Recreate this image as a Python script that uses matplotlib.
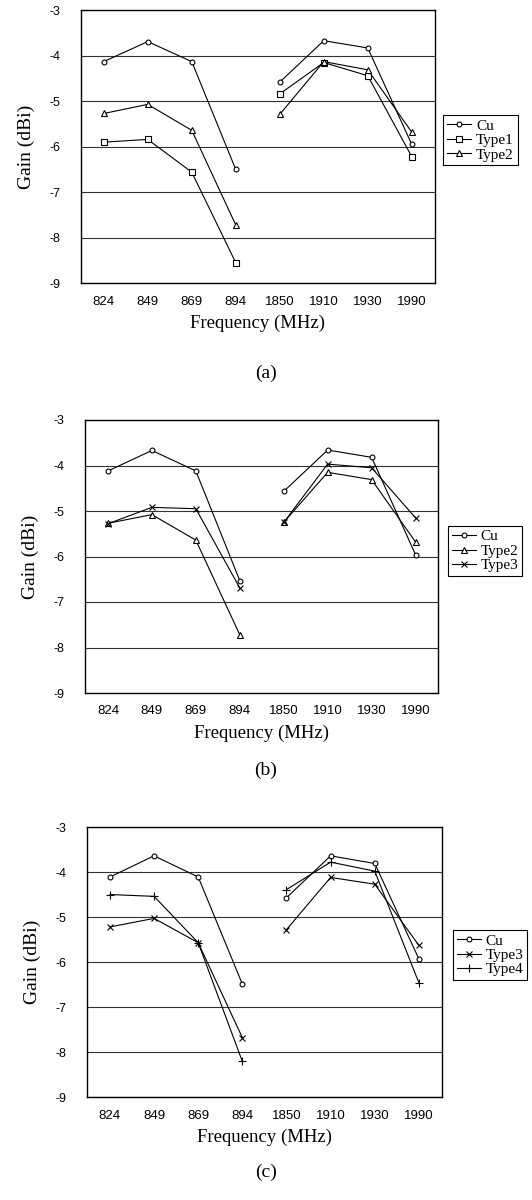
import numpy as np
import matplotlib
matplotlib.use('Agg')
import matplotlib.pyplot as plt

freq_labels = ['824', '849', '869', '894', '1850', '1910', '1930', '1990']
ytick_vals = [-3, -4, -5, -6, -7, -8, -9]

# panel (a)
cu_a = [-4.13, -3.69, -4.13, -6.50, -4.58, -3.67, -3.83, -5.95]
type1_a = [-5.90, -5.84, -6.56, -8.55, -4.84, -4.15, -4.44, -6.22]
type2_a = [-5.27, -5.07, -5.64, -7.72, -5.29, -4.13, -4.31, -5.68]

# panel (b)
cu_b = [-4.12, -3.67, -4.12, -6.53, -4.57, -3.66, -3.82, -5.96]
type2_b = [-5.27, -5.08, -5.64, -7.72, -5.25, -4.15, -4.31, -5.68]
type3_b = [-5.28, -4.92, -4.95, -6.69, -5.25, -3.97, -4.05, -5.15]

# panel (c)
cu_c = [-4.11, -3.64, -4.11, -6.49, -4.57, -3.64, -3.81, -5.93]
type3_c = [-5.22, -5.03, -5.57, -7.68, -5.28, -4.12, -4.27, -5.63]
type4_c = [-4.50, -4.54, -5.57, -8.21, -4.39, -3.78, -3.98, -6.46]

styles = {
    'Cu': dict(marker='o', ms=3.5),
    'Type1': dict(marker='s', ms=5),
    'Type2': dict(marker='^', ms=4.5),
    'Type3': dict(marker='x', ms=5),
    'Type4': dict(marker='+', ms=6),
}

serif = ['Liberation Serif', 'DejaVu Serif']
sans = ['Liberation Sans', 'DejaVu Sans']

fig = plt.figure(figsize=(5.32, 12), dpi=100)


def panel(rect, series, legend_xy, caption, cap_y):
    ax = fig.add_axes(rect)
    x = np.arange(len(freq_labels))
    handles = []
    for name, vals in series:
        st = styles[name]
        kw = dict(color='black', lw=0.8, marker=st['marker'], ms=st['ms'],
                  mfc='white', mec='black', mew=0.8)
        # the two frequency bands are drawn as separate segments
        h, = ax.plot(x[:4], vals[:4], label=name, **kw)
        ax.plot(x[4:], vals[4:], **kw)
        handles.append(h)
    ax.set_xlim(-0.52, 7.52)
    ax.set_ylim(-9, -3)
    ax.set_yticks(ytick_vals)
    ax.set_yticklabels(['-%d' % -v for v in ytick_vals], family=sans, fontsize=9)
    ax.set_xticks(x)
    ax.set_xticklabels(freq_labels, family=sans, fontsize=9.5)
    ax.tick_params(axis='y', length=0, pad=15)
    ax.tick_params(axis='x', length=0, pad=9)
    ax.grid(axis='y', color='#333333', lw=0.8)
    ax.set_axisbelow(True)
    for s in ax.spines.values():
        s.set_linewidth(1.0)
        s.set_color('black')
    ax.set_ylabel('Gain (dBi)', family=serif, fontsize=14, labelpad=10)
    ax.set_xlabel('Frequency (MHz)', family=serif, fontsize=13.5, labelpad=5)
    leg = fig.legend(handles=handles, loc='upper left', bbox_to_anchor=legend_xy,
                     prop={'family': serif, 'size': 11}, handlelength=1.6,
                     handletextpad=0.3, borderpad=0.25, labelspacing=0.05,
                     fancybox=False, framealpha=1, edgecolor='black',
                     borderaxespad=0)
    leg.get_frame().set_linewidth(0.8)
    fig.text(0.5, cap_y, caption, ha='center', va='center', family=serif, fontsize=14)
    return ax


panel([0.152, 0.764, 0.665, 0.2275],
      [('Cu', cu_a), ('Type1', type1_a), ('Type2', type2_a)],
      (0.833, 0.904), '(a)', 1 - 373 / 1200)
panel([0.160, 0.4225, 0.664, 0.2275],
      [('Cu', cu_b), ('Type2', type2_b), ('Type3', type3_b)],
      (0.842, 0.5617), '(b)', 1 - 770 / 1200)
panel([0.1635, 0.0858, 0.667, 0.225],
      [('Cu', cu_c), ('Type3', type3_c), ('Type4', type4_c)],
      (0.851, 0.225), '(c)', 1 - 1172 / 1200)

fig.savefig('out.png', dpi=100)
